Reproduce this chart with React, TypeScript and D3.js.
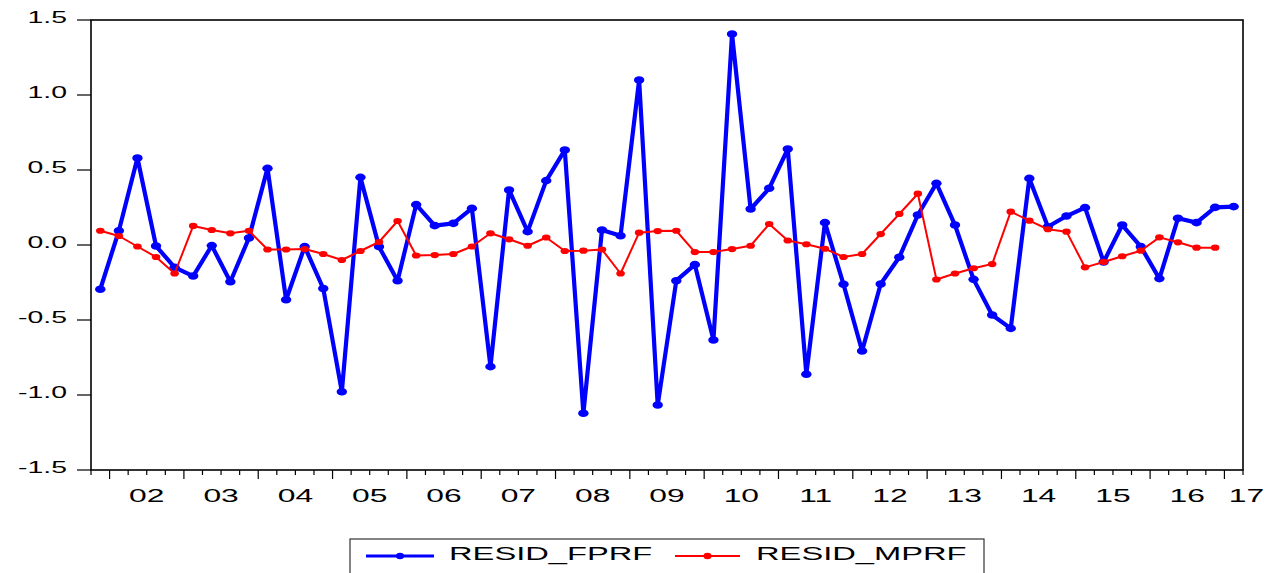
import { useEffect, useRef } from "react";
import * as d3 from "d3";

// quarterly residuals, 2001Q4 .. 2017Q1
const startYear = 2001;
const startQuarter = 4;

const residFprf = [
  -0.295, 0.095, 0.58, -0.007, -0.149, -0.207, -0.004, -0.245, 0.047, 0.511,
  -0.365, -0.011, -0.29, -0.978, 0.451, -0.011, -0.238, 0.269, 0.129, 0.144,
  0.244, -0.811, 0.367, 0.089, 0.429, 0.633, -1.122, 0.1, 0.062, 1.1,
  -1.067, -0.238, -0.131, -0.633, 1.407, 0.24, 0.378, 0.64, -0.862, 0.149,
  -0.262, -0.707, -0.26, -0.082, 0.2, 0.411, 0.133, -0.229, -0.467, -0.556,
  0.444, 0.122, 0.193, 0.249, -0.113, 0.133, -0.011, -0.224, 0.178, 0.149,
  0.251, 0.256,
];

const residMprf = [
  0.095, 0.06, -0.01, -0.08, -0.19, 0.127, 0.1, 0.078, 0.095, -0.03,
  -0.03, -0.027, -0.06, -0.1, -0.04, 0.02, 0.16, -0.07, -0.067, -0.06,
  -0.01, 0.078, 0.038, -0.005, 0.05, -0.04, -0.038, -0.03, -0.19, 0.082,
  0.093, 0.095, -0.047, -0.047, -0.027, -0.005, 0.14, 0.03, 0.005, -0.025,
  -0.08, -0.06, 0.073, 0.207, 0.342, -0.23, -0.19, -0.155, -0.127, 0.222,
  0.162, 0.105, 0.089, -0.149, -0.113, -0.075, -0.038, 0.051, 0.018, -0.018,
  -0.018,
];

const yearLabels = ["02", "03", "04", "05", "06", "07", "08", "09", "10", "11", "12", "13", "14", "15", "16", "17"];
const yTicks = [-1.5, -1.0, -0.5, 0.0, 0.5, 1.0, 1.5];

const series = [
  { name: "RESID_FPRF", values: residFprf, color: "#0000ff", width: 4.2, rx: 5.2, ry: 3.8 },
  { name: "RESID_MPRF", values: residMprf, color: "#ff0000", width: 2, rx: 4.3, ry: 3.1 },
];

const W = 1268;
const H = 573;
const FONT = "'Liberation Sans', Arial, sans-serif";
const STRETCH = 1.72;

export default function App() {
  const ref = useRef<SVGSVGElement>(null);

  useEffect(() => {
    const el = ref.current;
    if (!el) return;
    const svg = d3.select(el);
    svg.selectAll("*").remove();

    const nPeriods = residFprf.length; // 62 quarters
    const x = d3.scaleLinear().domain([0, nPeriods]).range([91, 1243]);
    const y = d3.scaleLinear().domain([-1.5, 1.5]).range([470, 20]);
    const fmt = (v: number) => d3.format(".1f")(v).replace("\u2212", "-");

    // y ticks + labels
    yTicks.forEach((t) => {
      svg.append("line")
        .attr("x1", 77).attr("x2", 91)
        .attr("y1", y(t)).attr("y2", y(t))
        .attr("stroke", "#000").attr("stroke-width", 1.2);
      svg.append("text")
        .attr("transform", `translate(67,${y(t) + 3}) scale(${STRETCH},1)`)
        .attr("text-anchor", "end")
        .attr("font-family", FONT).attr("font-size", 16.5)
        .attr("fill", "#000")
        .text(fmt(t));
    });

    // x ticks: one per quarter, long at Q1
    d3.range(0, nPeriods + 1).forEach((i) => {
      const quarter = ((startQuarter - 1 + i) % 4) + 1;
      const len = quarter === 1 ? 9 : 5;
      svg.append("line")
        .attr("x1", x(i)).attr("x2", x(i))
        .attr("y1", 470).attr("y2", 470 + len)
        .attr("stroke", "#000").attr("stroke-width", 1.2);
    });

    // year labels centred on the year span
    yearLabels.forEach((lab, k) => {
      const first = 1 + k * 4; // index of Q1
      const cx = k === yearLabels.length - 1 ? x(first) + 22 : x(first + 2);
      svg.append("text")
        .attr("transform", `translate(${cx},502) scale(${STRETCH},1)`)
        .attr("text-anchor", "middle")
        .attr("font-family", FONT).attr("font-size", 18.5)
        .attr("fill", "#000")
        .text(lab);
    });

    // series
    series.forEach((s) => {
      const line = d3.line<number>()
        .x((_, i) => x(i + 0.5))
        .y((d) => y(d));
      svg.append("path")
        .datum(s.values)
        .attr("d", line)
        .attr("fill", "none")
        .attr("stroke", s.color)
        .attr("stroke-width", s.width)
        .attr("stroke-linejoin", "round");
      svg.append("g").selectAll("ellipse")
        .data(s.values).join("ellipse")
        .attr("cx", (_, i) => x(i + 0.5))
        .attr("cy", (d) => y(d))
        .attr("rx", s.rx).attr("ry", s.ry)
        .attr("fill", s.color);
    });

    // frame
    svg.append("rect")
      .attr("x", 91).attr("y", 20)
      .attr("width", 1243 - 91).attr("height", 450)
      .attr("fill", "none").attr("stroke", "#000").attr("stroke-width", 1.6);

    // legend
    const leg = svg.append("g");
    leg.append("rect")
      .attr("x", 350).attr("y", 539).attr("width", 634).attr("height", 50)
      .attr("fill", "#fff").attr("stroke", "#333").attr("stroke-width", 1.2);
    const items = [
      { s: series[0], x0: 366, x1: 434, tx: 449 },
      { s: series[1], x0: 675, x1: 740, tx: 756 },
    ];
    items.forEach(({ s, x0, x1, tx }) => {
      leg.append("line")
        .attr("x1", x0).attr("x2", x1).attr("y1", 556).attr("y2", 556)
        .attr("stroke", s.color).attr("stroke-width", s === series[0] ? 3 : 2);
      leg.append("ellipse")
        .attr("cx", (x0 + x1) / 2).attr("cy", 556)
        .attr("rx", 4).attr("ry", 3.2)
        .attr("fill", s.color);
      leg.append("text")
        .attr("transform", `translate(${tx},560) scale(${STRETCH},1)`)
        .attr("font-family", FONT).attr("font-size", 19)
        .attr("fill", "#000")
        .text(s.name);
    });
  }, []);

  return (
    <div style={{ position: "absolute", left: 0, top: 0, width: W, height: H, background: "#fff" }}>
      <svg ref={ref} width={W} height={H} style={{ display: "block" }} />
    </div>
  );
}
